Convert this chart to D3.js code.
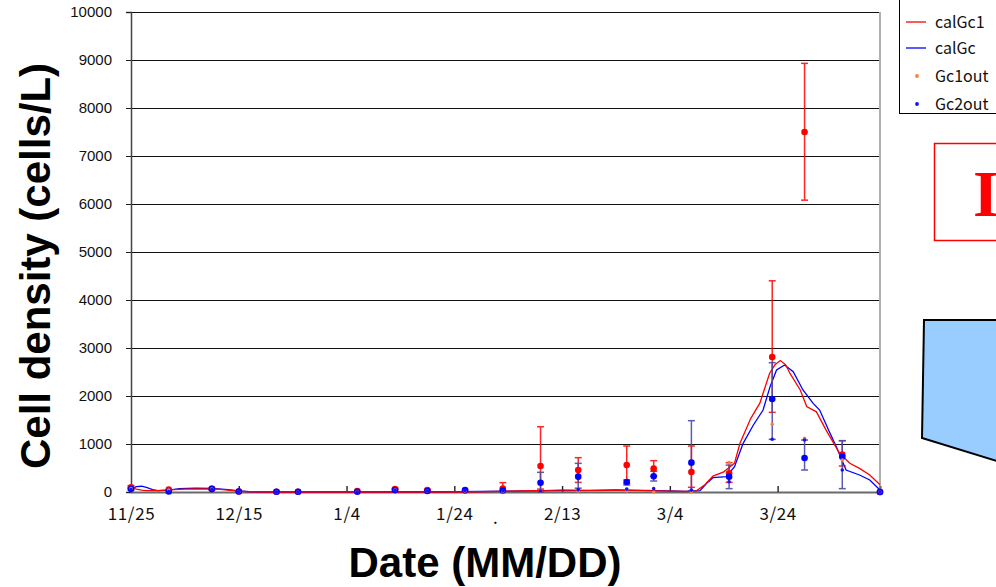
<!DOCTYPE html>
<html>
<head>
<meta charset="utf-8">
<script src="https://cdn.jsdelivr.net/npm/d3@7"></script>
<style>
  html, body { margin: 0; padding: 0; background: #fff; }
  svg { display: block; }
</style>
</head>
<body>
<svg width="996" height="587"></svg>
<script>
// days counted from 11/25 (sampling days)
const sampleDays = [0, 7, 15, 20, 27, 31, 42, 49, 55, 62, 69, 76, 83, 92, 97, 104, 111, 119, 125, 132, 139];

// observed Gc1 (red) with error bar ends
const gc1Mean = [100, 50, 70, 10, 5, 5, 20, 60, 40, 30, 70, 542, 458, 562, 486, 417, 389, 2812, 7500, 778, 0];
const gc1Lo   = [80, 40, 60, 5, 0, 0, 10, 45, 25, 20, 20, 60, 200, 180, 330, 98, 201, 1660, 6080, 542, 0];
const gc1Hi   = [130, 60, 85, 15, 10, 10, 30, 75, 55, 40, 195, 1360, 715, 958, 653, 958, 611, 4400, 8930, 1069, 0];

// observed Gc2 (blue) with error bar ends
const gc2Mean = [60, 10, 60, 10, 5, 5, 5, 40, 20, 40, 30, 194, 320, 208, 326, 611, 320, 1937, 708, 736, 0];
const gc2Lo   = [40, 0, 45, 0, 0, 0, 0, 30, 10, 30, 20, 0, 80, 146, 229, 27, 70, 1097, 458, 70, 0];
const gc2Hi   = [80, 20, 75, 20, 10, 10, 10, 50, 30, 50, 40, 410, 597, 250, 430, 1486, 560, 2694, 1083, 1069, 0];

// small markers
const gc1Out = [70, 40, 60, 5, 0, 0, 10, 40, 20, 20, 10, 20, 20, 20, 0, 0, 611, 1410, 1118, 667, 0];
const gc2Out = [50, 10, 50, 5, 0, 0, 5, 30, 20, 30, 20, 20, 50, 60, 70, 40, 215, 1100, 1083, 458, 0];

// calculated curves
const calDays1 = [0, 1, 2, 3, 5, 7, 10, 13, 16, 18, 20, 22, 25, 60, 65, 70, 75, 80, 85, 90, 95, 100, 103, 105,
  106.5, 108, 110, 112, 113, 115, 116.7, 118.5, 119.5, 120.5, 121.5, 122.3, 124.2, 125.4, 127.2, 129, 131.5,
  133.4, 135.2, 137.1, 139];
const calGc1 = [90, 60, 40, 30, 30, 45, 60, 65, 60, 40, 20, 5, 0, 0, 5, 20, 30, 25, 30, 35, 30, 20, 10, 30,
  150, 330, 420, 600, 1010, 1530, 1850, 2470, 2650, 2740, 2650, 2470, 2125, 1780, 1670, 1290, 806,
  600, 493, 354, 150];

const calDays2 = [0, 1, 2, 3, 4, 5, 7, 9, 12, 15, 18, 20, 22, 25, 60, 65, 70, 75, 80, 85, 90, 95, 100, 103,
  105.6, 107, 108, 110.5, 112, 113.6, 115.5, 117.3, 118.6, 119.8, 121.3, 122.9, 124.7, 126.6, 127.8, 129.6,
  130.9, 132.7, 135.2, 137.1, 139];
const calGc = [60, 110, 120, 90, 50, 30, 40, 70, 80, 75, 50, 25, 5, 0, 5, 10, 20, 25, 40, 35, 45, 35, 25, 15,
  27, 200, 298, 319, 527, 1014, 1396, 1708, 2194, 2542, 2646, 2506, 2125, 1847, 1708, 1256,
  944, 458, 354, 250, 42];

const xTickDays = [0, 20, 40, 60, 80, 100, 120];
const xTickLabels = ["11/25", "12/15", "1/4", "1/24", "2/13", "3/4", "3/24"];

const legendNames = ["obsGc2", "calGc1", "calGc", "Gc1out", "Gc2out"];

const svg = d3.select("svg");
const margin = { top: 12, right: 116, bottom: 95, left: 131 };
const width = +svg.attr("width");
const height = +svg.attr("height");

const x = d3.scaleLinear().domain([0, 139]).range([margin.left, width - margin.right]);
const y = d3.scaleLinear().domain([0, 10000]).range([height - margin.bottom, margin.top]);

// gridlines
svg.append("g")
  .selectAll("line")
  .data(y.ticks(10).filter(d => d > 0))
  .join("line")
  .attr("x1", x(0)).attr("x2", x(139))
  .attr("y1", d => y(d) + 0.5).attr("y2", d => y(d) + 0.5)
  .attr("stroke", "#111").attr("stroke-width", 1);

// right border of plot
svg.append("line")
  .attr("x1", x(139)).attr("x2", x(139))
  .attr("y1", y(10000)).attr("y2", y(0))
  .attr("stroke", "#b0b0b0").attr("stroke-width", 2);

// y axis
const yAxis = svg.append("g")
  .attr("transform", `translate(${margin.left},0)`)
  .call(d3.axisLeft(y).ticks(10).tickSize(5).tickPadding(14).tickFormat(d3.format("d")));
yAxis.select(".domain").attr("stroke", "#444").attr("stroke-width", 1.5);
yAxis.selectAll(".tick line").attr("stroke", "#222");
yAxis.selectAll("text")
  .attr("font-family", "'Liberation Sans', Arial, sans-serif")
  .attr("font-size", 15)
  .attr("fill", "#111");

// x axis (ticks point inward)
const xAxis = svg.append("g")
  .attr("transform", `translate(0,${y(0)})`)
  .call(d3.axisBottom(x).tickValues(xTickDays).tickSize(-6).tickPadding(16)
    .tickFormat((d, i) => xTickLabels[i]));
xAxis.select(".domain").attr("stroke", "#6a6a6a").attr("stroke-width", 2.2);
xAxis.selectAll(".tick line").attr("stroke", "#222").attr("stroke-width", 1.4);
xAxis.selectAll("text")
  .attr("font-family", "'Noto Sans CJK JP', sans-serif")
  .attr("font-size", 17)
  .attr("letter-spacing", 0.6)
  .attr("fill", "#111");

// stray dot under the axis
svg.append("text")
  .attr("x", x(67.2)).attr("y", 524)
  .attr("font-family", "'Noto Sans CJK JP', sans-serif")
  .attr("font-size", 17)
  .text(".");

// calculated lines
const line = d3.line().x(d => x(d[0])).y(d => y(d[1]));
svg.append("path")
  .datum(calDays2.map((d, i) => [d, calGc[i]]))
  .attr("fill", "none").attr("stroke", "#0000ff").attr("stroke-width", 1.3)
  .attr("d", line);
svg.append("path")
  .datum(calDays1.map((d, i) => [d, calGc1[i]]))
  .attr("fill", "none").attr("stroke", "#ff0000").attr("stroke-width", 1.3)
  .attr("d", line);

// error bars
function errorBars(lo, hi, color, opacity) {
  const g = svg.append("g").attr("stroke", color).attr("stroke-width", 1.5).attr("opacity", opacity);
  sampleDays.forEach((d, i) => {
    if (hi[i] - lo[i] < 25) return;
    g.append("line").attr("x1", x(d)).attr("x2", x(d)).attr("y1", y(lo[i])).attr("y2", y(hi[i]));
    g.append("line").attr("x1", x(d) - 3.5).attr("x2", x(d) + 3.5).attr("y1", y(lo[i])).attr("y2", y(lo[i]));
    g.append("line").attr("x1", x(d) - 3.5).attr("x2", x(d) + 3.5).attr("y1", y(hi[i])).attr("y2", y(hi[i]));
  });
}
errorBars(gc1Lo, gc1Hi, "#ff0000", 0.85);
errorBars(gc2Lo, gc2Hi, "#4a4aa8", 0.9);

// dots
function dots(values, color, r) {
  svg.append("g")
    .selectAll("circle")
    .data(sampleDays)
    .join("circle")
    .attr("cx", d => x(d))
    .attr("cy", (d, i) => y(values[i]))
    .attr("r", r)
    .attr("fill", color);
}
dots(gc1Mean, "#ff0000", 3.3);
dots(gc2Mean, "#0000ff", 3.3);
dots(gc1Out, "#ff7f3a", 1.8);
dots(gc2Out, "#1010ff", 1.8);

// axis titles
svg.append("text")
  .attr("transform", `translate(50,${266}) rotate(-90)`)
  .attr("text-anchor", "middle")
  .attr("font-family", "'Liberation Sans', Arial, sans-serif")
  .attr("font-weight", "bold")
  .attr("font-size", 42)
  .text("Cell density (cells/L)");

svg.append("text")
  .attr("x", 485).attr("y", 577)
  .attr("text-anchor", "middle")
  .attr("font-family", "'Liberation Sans', Arial, sans-serif")
  .attr("font-weight", "bold")
  .attr("font-size", 42)
  .text("Date (MM/DD)");

// legend (cut off at the top-right)
const legend = svg.append("g");
legend.append("rect")
  .attr("x", 899.5).attr("y", -20).attr("width", 120).attr("height", 133.5)
  .attr("fill", "#fff").attr("stroke", "#000").attr("stroke-width", 1);
const legendY = [-6, 22, 48, 76, 104];
legendNames.forEach((name, i) => {
  const cy = legendY[i];
  if (name === "calGc1" || name === "calGc") {
    legend.append("line")
      .attr("x1", 906).attr("x2", 926).attr("y1", cy).attr("y2", cy)
      .attr("stroke", name === "calGc1" ? "#ff0000" : "#0000ff").attr("stroke-width", 1.3);
  } else if (name === "Gc1out" || name === "Gc2out") {
    legend.append("circle")
      .attr("cx", 917).attr("cy", cy).attr("r", 1.9)
      .attr("fill", name === "Gc1out" ? "#ff7f3a" : "#1010ff");
  }
  legend.append("text")
    .attr("x", 935).attr("y", cy + 6)
    .attr("font-family", "'Noto Sans CJK JP', sans-serif")
    .attr("font-size", 16)
    .attr("fill", "#111")
    .text(name);
});

// red framed label, cut off at the right edge
svg.append("rect")
  .attr("x", 934.5).attr("y", 143.5).attr("width", 80).attr("height", 97)
  .attr("fill", "#fff").attr("stroke", "#ff0000").attr("stroke-width", 1.5);
svg.append("text")
  .attr("x", 973).attr("y", 216)
  .attr("font-family", "'Liberation Serif', 'Times New Roman', serif")
  .attr("font-weight", "bold")
  .attr("font-size", 66)
  .attr("fill", "#ff0000")
  .text("I");

// light blue shape, cut off at the right edge
svg.append("path")
  .attr("d", "M924,320 L1000,320 L1000,462 L922,438 Z")
  .attr("fill", "#99ccff").attr("stroke", "#000").attr("stroke-width", 2);
</script>
</body>
</html>
